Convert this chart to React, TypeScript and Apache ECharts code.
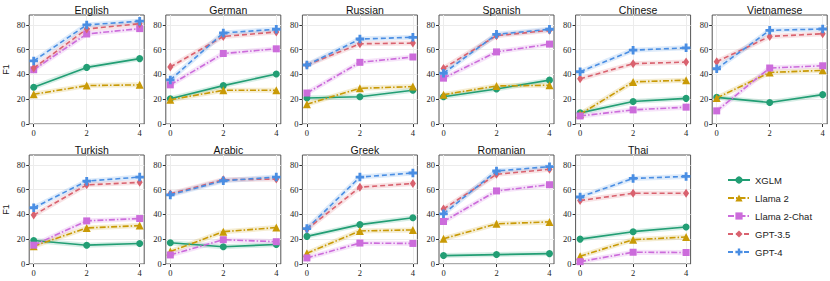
import React, { useEffect, useRef } from "react";
import * as echarts from "echarts";

const LANGS = ["English", "German", "Russian", "Spanish", "Chinese", "Vietnamese", "Turkish", "Arabic", "Greek", "Romanian", "Thai"];
const SHOTS = [0, 2, 4];
const MODELS = ["XGLM", "Llama 2", "Llama 2-Chat", "GPT-3.5", "GPT-4"];
const Y_TICKS = [0, 20, 40, 60, 80];
const X_MIN = -0.17;
const X_MAX = 4.17;

const XGLM = [
  [29.7, 45.7, 52.8], [20.4, 31, 40.3], [21, 22, 27.2], [22, 28.3, 35.4], [9, 18.2, 20.7], [21.5, 17.4, 23.7],
  [19, 15.2, 16.6], [17.1, 13.9, 15.8], [22.3, 31.8, 37.3], [6.8, 7.6, 8.4], [20.1, 26.1, 29.9],
];
const LLAMA2 = [
  [24, 31, 31.6], [19.6, 27.2, 27.2], [16, 28.8, 30.2], [23.7, 30.7, 31.3], [7.9, 34, 35.4], [21, 41.6, 43.3],
  [14.4, 29.1, 31], [10, 26.1, 29.4], [8.7, 26.7, 27.5], [20.4, 32.4, 34], [6.3, 19.6, 21.8],
];
const LLAMA2_CHAT = [
  [43.8, 72.7, 77], [31.6, 56.9, 60.7], [25, 49.8, 54.1], [37, 58.2, 64.5], [6.5, 11.4, 13.6], [10.6, 45.2, 47],
  [15.2, 34.8, 36.7], [7.3, 19.6, 18], [4.9, 16.9, 16.6], [34.3, 59, 64], [1.9, 9.5, 9.3],
];
const GPT35 = [
  [45.2, 76.7, 81], [46, 70.7, 74.3], [47.6, 64.8, 65.3], [44.9, 71.3, 75.6], [36.5, 48.7, 50], [50.3, 70.7, 72.9],
  [39.5, 63.9, 65.9], [56.6, 68, 68.6], [28, 62, 65], [44.4, 72.4, 76.5], [51.2, 57.1, 57.1],
];
const GPT4 = [
  [50.9, 80, 83], [35.6, 73.5, 76.5], [47.6, 68.6, 70], [41, 72.4, 76.5], [42.2, 59.6, 61.5], [44.6, 75.6, 76.7],
  [45.4, 66.9, 70.2], [55.8, 67.2, 70.2], [28.6, 70.2, 73.5], [40.5, 75.1, 78.6], [54.1, 69.1, 70.7],
];
const VALUES = [XGLM, LLAMA2, LLAMA2_CHAT, GPT35, GPT4];

const COLORS = ["#229e74", "#c99a06", "#cc6cdb", "#d9626f", "#4a8ee3"];
const PLUS = "path://M2,0H4V2H6V4H4V6H2V4H0V2H2Z";
const SYMBOLS = ["circle", "triangle", "rect", "diamond", PLUS];
const SYMBOL_SIZES: any[] = [7, 8, 7, [6, 9], 8.5];
const DASHES: any[] = ["solid", [6, 2, 1.5, 2], [6, 2, 1.5, 2], [5, 3], [5, 3]];

export default function App() {
  const ref = useRef<HTMLDivElement>(null);
  useEffect(() => {
    if (!ref.current) return;
    const chart = echarts.init(ref.current, null, { renderer: "svg" });
    const grids: any[] = [];
    const xAxes: any[] = [];
    const yAxes: any[] = [];
    const titles: any[] = [];
    const series: any[] = [];
    const step = 136.6;
    const width = 115;
    const height = 109;
    const labelFont = { fontFamily: "Liberation Serif", fontSize: 8.5, color: "#222" };
    LANGS.forEach((lang, i) => {
      const col = i % 6;
      const row = Math.floor(i / 6);
      const left = 29.2 + step * col;
      const top = row === 0 ? 15 : 155;
      grids.push({ left, top, width, height, show: true, borderColor: "#555", borderWidth: 1, backgroundColor: "#fff" });
      titles.push({
        text: lang,
        left: left + width / 2,
        top: top - 16,
        textAlign: "center",
        textStyle: { fontFamily: "Liberation Sans", fontSize: 10.5, fontWeight: "normal", color: "#111" },
      });
      xAxes.push({
        type: "value",
        gridIndex: i,
        min: X_MIN,
        max: X_MAX,
        axisLine: { show: false, onZero: false },
        axisTick: { show: true, length: 3, customValues: SHOTS, lineStyle: { color: "#333" } },
        axisLabel: { customValues: SHOTS, margin: 4, hideOverlap: false, ...labelFont },
        splitLine: { show: true, customValues: SHOTS, lineStyle: { color: "#ececec", width: 1 } },
      });
      yAxes.push({
        type: "value",
        gridIndex: i,
        min: 0,
        max: 88,
        name: col === 0 ? "F1" : "",
        nameLocation: "middle",
        nameGap: 19,
        nameRotate: 90,
        nameTextStyle: { fontFamily: "Liberation Sans", fontSize: 9, color: "#222" },
        axisLine: { show: false, onZero: false },
        axisTick: { show: true, length: 3, customValues: Y_TICKS, lineStyle: { color: "#333" } },
        axisLabel: { customValues: Y_TICKS.filter((v) => v > 0), hideOverlap: false, margin: 4, ...labelFont },
        splitLine: { show: true, customValues: Y_TICKS, lineStyle: { color: "#ececec", width: 1 } },
      });
      MODELS.forEach((m, k) => {
        const data = SHOTS.map((s, j) => [s, VALUES[k][i][j]]);
        series.push({
          name: m + " band",
          type: "line",
          xAxisIndex: i,
          yAxisIndex: i,
          data,
          symbol: "none",
          silent: true,
          z: 1,
          lineStyle: { color: COLORS[k], width: 5, opacity: 0.18 },
        });
        series.push({
          name: m,
          type: "line",
          xAxisIndex: i,
          yAxisIndex: i,
          data,
          symbol: SYMBOLS[k],
          symbolSize: SYMBOL_SIZES[k],
          z: 2 + k,
          itemStyle: { color: COLORS[k] },
          lineStyle: { color: COLORS[k], width: 1.6, type: DASHES[k] },
        });
      });
    });
    chart.setOption({
      animation: false,
      backgroundColor: "#fff",
      title: titles,
      grid: grids,
      xAxis: xAxes,
      yAxis: yAxes,
      series,
      legend: {
        data: MODELS,
        orient: "vertical",
        left: 722,
        top: 170,
        itemWidth: 22,
        itemHeight: 9,
        itemGap: 8,
        textStyle: { fontFamily: "Liberation Sans", fontSize: 9.5, color: "#222" },
      },
    });
    // The axis suppresses its bottom tick label; place "0" using the axes' own pixel conversion.
    const zeroLabels: any[] = LANGS.map((_, i) => {
      const pt = chart.convertToPixel({ gridIndex: i } as any, [X_MIN, Y_TICKS[0]]) as number[];
      return {
        type: "text",
        x: pt[0] - 4,
        y: pt[1],
        z: 100,
        silent: true,
        style: {
          text: String(Y_TICKS[0]),
          align: "right",
          verticalAlign: "middle",
          fontFamily: "Liberation Serif",
          fontSize: 8.5,
          fill: "#222",
        },
      };
    });
    chart.setOption({ graphic: zeroLabels });
    return () => chart.dispose();
  }, []);
  return <div ref={ref} style={{ width: 830, height: 281, position: "absolute", left: 0, top: 0 }} />;
}
